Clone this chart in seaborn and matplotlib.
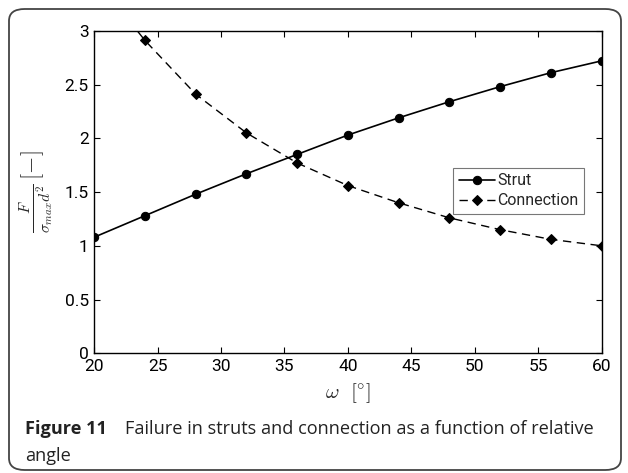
import matplotlib
matplotlib.use("Agg")
import matplotlib.pyplot as plt
from matplotlib.patches import FancyBboxPatch
import numpy as np
import pandas as pd
import seaborn as sns

# datos
omega = [20, 24, 28, 32, 36, 40, 44, 48, 52, 56, 60]
strut = [1.08, 1.28, 1.48, 1.67, 1.85, 2.03, 2.19, 2.34, 2.48, 2.61, 2.72]
connection = [3.50, 2.91, 2.41, 2.05, 1.77, 1.56, 1.40, 1.26, 1.15, 1.06, 1.00]

xticks = [20, 25, 30, 35, 40, 45, 50, 55, 60]
yticks = [0, 0.5, 1, 1.5, 2, 2.5, 3]
ytick_labels = ["0", "0.5", "1", "1.5", "2", "2.5", "3"]

sns.set_style("ticks")
plt.rcParams["font.family"] = ["Roboto", "DejaVu Sans"]
plt.rcParams["mathtext.fontset"] = "cm"

df = pd.DataFrame({"omega": omega, "strut": strut, "connection": connection})

fig = plt.figure(figsize=(6.28, 4.73), dpi=100)
ax = fig.add_axes([0.150, 0.253, 0.808, 0.682])

sns.lineplot(data=df, x="omega", y="strut", ax=ax, color="black",
             marker="o", markersize=6, markeredgecolor="black",
             linewidth=1.2, label="Strut")
sns.lineplot(data=df, x="omega", y="connection", ax=ax, color="black",
             marker="D", markersize=5, markeredgecolor="black",
             linewidth=1.0, linestyle=(0, (6, 4)), label="Connection")

ax.set_xlim(20, 60)
ax.set_ylim(0, 3)
ax.set_xticks(xticks)
ax.set_yticks(yticks)
ax.set_yticklabels(ytick_labels)
ax.tick_params(direction="in", top=True, right=True, length=4, width=0.8,
               labelsize=12.5, colors="black", pad=4)
for s in ax.spines.values():
    s.set_linewidth(1.0)
    s.set_color("black")

ax.set_xlabel(r"$\omega\ \ [^{\circ}]$", fontsize=15, labelpad=5)
ax.set_ylabel(r"$\frac{F}{\sigma_{max}d^{2}}\,[-]$", fontsize=16, labelpad=6)

leg = ax.legend(loc="upper right", bbox_to_anchor=(0.965, 0.575),
                fontsize=11.5, frameon=True, fancybox=False,
                handlelength=2.3, handletextpad=0.1, borderpad=0.35,
                labelspacing=0.3, borderaxespad=0)
leg.get_frame().set_edgecolor("#555555")
leg.get_frame().set_linewidth(0.8)

# marco redondeado y pie de figura
frame = FancyBboxPatch((9 / 628, 3 / 473), 612 / 628, 461 / 473,
                       boxstyle="round,pad=0,rounding_size=0.025",
                       transform=fig.transFigure, fill=False,
                       edgecolor="#444444", linewidth=1.3)
fig.patches.append(frame)

cap = dict(fontsize=13.1, color="#222222", family=["Open Sans", "DejaVu Sans"])
fig.text(25 / 628, 1 - 434 / 473, "Figure 11", fontweight="bold", **cap)
fig.text(125 / 628, 1 - 434 / 473,
         "Failure in struts and connection as a function of relative", **cap)
fig.text(25 / 628, 1 - 461 / 473, "angle", **cap)

fig.savefig("out.png", dpi=100)
plt.close(fig)
